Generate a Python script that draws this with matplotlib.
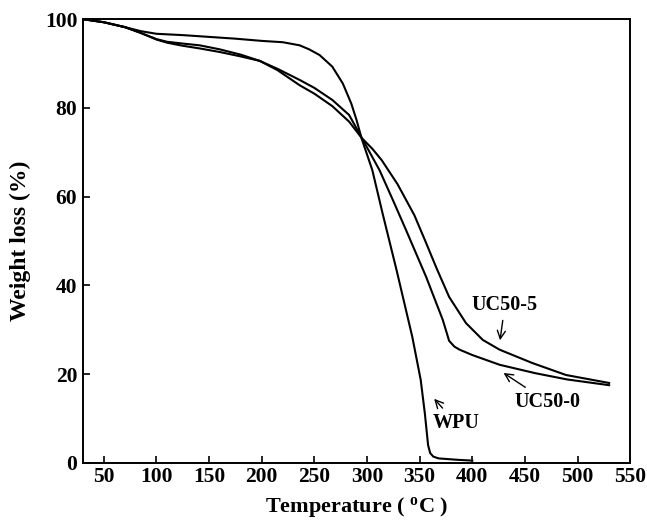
import matplotlib
matplotlib.use("Agg")
import matplotlib.pyplot as plt

# TGA curves
t_wpu = [30, 50, 70, 85, 100, 125, 150, 175, 200, 220, 236, 245, 255, 267, 277,
         285, 290, 295, 305, 315, 328, 343, 351, 355, 358, 360, 363, 368, 385, 400]
w_wpu = [100, 99.3, 98.2, 97.3, 96.7, 96.4, 96.0, 95.6, 95.1, 94.8, 94.1, 93.2,
         91.9, 89.3, 85.5, 81.0, 77.3, 73.0, 66.0, 56.0, 43.5, 28.4, 18.7, 11.0,
         4.0, 2.2, 1.4, 1.0, 0.7, 0.5]

t_uc0 = [30, 50, 70, 85, 100, 110, 125, 141, 160, 180, 198, 215, 236, 250, 267,
         283, 294.4, 311.8, 325, 337, 356, 372, 378, 383, 388, 400, 426, 460, 490,
         530]
w_uc0 = [100, 99.3, 98.2, 96.9, 95.5, 94.9, 94.5, 94.1, 93.2, 92.0, 90.6, 88.8,
         86.3, 84.5, 81.8, 78.4, 73.5, 66.0, 59.0, 52.5, 42.0, 32.2, 27.5, 26.2,
         25.5, 24.3, 22.1, 20.2, 18.8, 17.5]

t_uc5 = [30, 50, 70, 85, 100, 110, 125, 141, 160, 180, 198, 215, 236, 250, 267,
         283, 295, 305, 314, 329, 345, 355, 366, 378, 394, 410, 426, 457, 489, 530]
w_uc5 = [100, 99.3, 98.2, 96.9, 95.4, 94.7, 94.0, 93.4, 92.6, 91.6, 90.6, 88.5,
         85.1, 83.2, 80.4, 76.9, 73.2, 70.8, 68.2, 62.8, 55.8, 50.2, 43.9, 37.4,
         31.5, 27.7, 25.5, 22.5, 19.8, 18.0]

plt.rcParams['font.family'] = ['Liberation Serif', 'DejaVu Serif']
plt.rcParams['font.weight'] = 'bold'
plt.rcParams['mathtext.fontset'] = 'custom'
plt.rcParams['mathtext.rm'] = 'Liberation Serif:bold'
plt.rcParams['mathtext.it'] = 'Liberation Serif:bold'
plt.rcParams['mathtext.bf'] = 'Liberation Serif:bold'

fig = plt.figure(figsize=(6.47, 5.32), dpi=100)
ax = fig.add_axes([0.128, 0.130, 0.846, 0.834])

ax.plot(t_wpu, w_wpu, color='black', lw=1.5)
ax.plot(t_uc0, w_uc0, color='black', lw=1.5)
ax.plot(t_uc5, w_uc5, color='black', lw=1.5)

ax.set_xlim(30, 550)
ax.set_ylim(0, 100)
ax.set_xticks(range(50, 551, 50))
ax.set_yticks(range(0, 101, 20))
ax.tick_params(direction='in', length=5, width=1.2, labelsize=15.5, top=False, right=False)
ax.tick_params(axis='x', pad=3)
ax.tick_params(axis='y', pad=4)
for s in ax.spines.values():
    s.set_linewidth(1.4)

ax.set_xlabel('Temperature ( $^{o}$C )', fontsize=16, fontweight='bold', labelpad=6)
ax.set_ylabel('Weight loss (%)', fontsize=17, fontweight='bold', labelpad=10)

arrow = dict(arrowstyle='->', color='black', lw=1.0)
ax.annotate('UC50-5', xy=(426, 27.0), xytext=(431, 35.6), fontsize=14.5,
            fontweight='bold', ha='center', va='center', arrowprops=arrow)
ax.annotate('UC50-0', xy=(427.5, 20.6), xytext=(471, 13.8), fontsize=14.5,
            fontweight='bold', ha='center', va='center', arrowprops=arrow)
ax.annotate('WPU', xy=(362, 14.9), xytext=(384.5, 9.0), fontsize=14.5,
            fontweight='bold', ha='center', va='center', arrowprops=arrow)

fig.savefig('out.png', dpi=100)
